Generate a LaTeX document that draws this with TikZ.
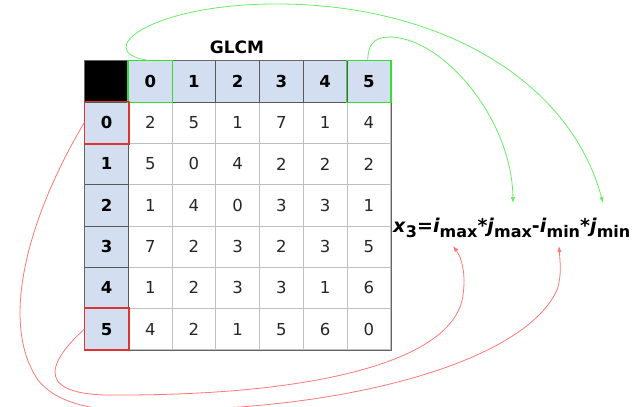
\documentclass[tikz,border=0pt]{standalone}
\usepackage{fontspec}
\setmainfont{DejaVu Sans}
\usepackage{tikz}
\usetikzlibrary{arrows.meta,calc,positioning}
\definecolor{hdrblue}{HTML}{D3DFF1}
\definecolor{boxgreen}{HTML}{33DD33}
\definecolor{linegreen}{HTML}{66EE66}
\definecolor{boxred}{HTML}{DD3333}
\definecolor{linered}{HTML}{FF7777}
\newcommand{\lowsub}[1]{\raisebox{-0.28em}{\fontsize{16}{17}\selectfont #1}}

\begin{document}
\begin{tikzpicture}[x=1pt,y=-1pt,>={Latex[length=6pt,width=4.5pt]},
  cell/.style={draw=gray!50,line width=0.8pt,minimum width=43.7pt,minimum height=41.3pt,
    inner sep=0,font=\fontsize{16.5}{18}\selectfont,text=black!85},
  hdr/.style={cell,fill=hdrblue,draw=black!65,font=\fontsize{16.5}{18}\selectfont\bfseries,text=black},
  gframe/.style={draw=boxgreen,line width=1.6pt},
  rframe/.style={draw=boxred,line width=1.6pt},
  glink/.style={draw=linegreen,line width=0.8pt,->},
  rlink/.style={draw=linered,line width=0.8pt,->}]
  \useasboundingbox (0,0) rectangle (640,407);
  % data cells
  \foreach \row [count=\r from 1] in {{2,5,1,7,1,4},{5,0,4,2,2,2},{1,4,0,3,3,1},
      {7,2,3,2,3,5},{1,2,3,3,1,6},{4,2,1,5,6,0}}
    \foreach \v [count=\c from 1] in \row
      \node[cell] (m-\r-\c) at ({84.7+43.7*(\c+0.5)},{60.7+41.3*(\r+0.5)}) {\v};
  % header row and column
  \node[cell,fill=black,draw=black] (corner) at ({84.7+43.7*0.5},{60.7+41.3*0.5}) {};
  \foreach \k in {0,...,5} {
    \node[hdr] (hc\k) at ({84.7+43.7*(\k+1.5)},{60.7+41.3*0.5}) {\k};
    \node[hdr] (hr\k) at ({84.7+43.7*0.5},{60.7+41.3*(\k+1.5)}) {\k};
  }
  \draw[black!60,line width=1pt] (corner.north west) -| (m-6-6.south east) -| (corner.north west);
  \draw[gframe] (hc0.south west) rectangle (hc0.north east);
  \draw[gframe] (hc5.south west) rectangle (hc5.north east);
  \draw[rframe] (hr0.south west) rectangle (hr0.north east);
  \draw[rframe] (hr5.south west) rectangle (hr5.north east);
  \node[font=\fontsize{17}{18}\selectfont\bfseries] (title) at (237,47) {GLCM};
  % formula and arrow targets
  \node[anchor=base west,inner sep=0,font=\fontsize{19}{21}\selectfont\bfseries] (formula) at (393,232)
    {\textit{x}\lowsub{3}=\textit{i}\lowsub{max}*\textit{j}\lowsub{max}-\textit{i}\lowsub{min}*\textit{j}\lowsub{min}};
  \coordinate (jmax) at (513,203);
  \coordinate (jmin) at (603,203);
  \coordinate (imax) at (453,246);
  \coordinate (imin) at (559,246);
  % connectors
  \draw[glink] ([xshift=-2pt]hc0.north) .. controls (90,52) and (150,3) .. (280,4)
    .. controls (440,5) and (570,80) .. (jmin);
  \draw[glink] ([xshift=-1pt]hc5.north) .. controls (368,40) and (378,37) .. (392,37)
    .. controls (445,40) and (512,120) .. (jmax);
  \draw[rlink] (hr5.west) .. controls (45,365) and (35,397) .. (120,395)
    .. controls (320,395) and (455,360) .. (463,295) .. controls (466,275) and (462,258) .. (imax);
  \draw[rlink] (hr0.west) .. controls (32,210) and (-3,320) .. (38,380)
    .. controls (70,420) and (150,412) .. (240,407) .. controls (400,395) and (530,350) .. (557,290)
    .. controls (562,275) and (560,262) .. (imin);
\end{tikzpicture}
\end{document}
